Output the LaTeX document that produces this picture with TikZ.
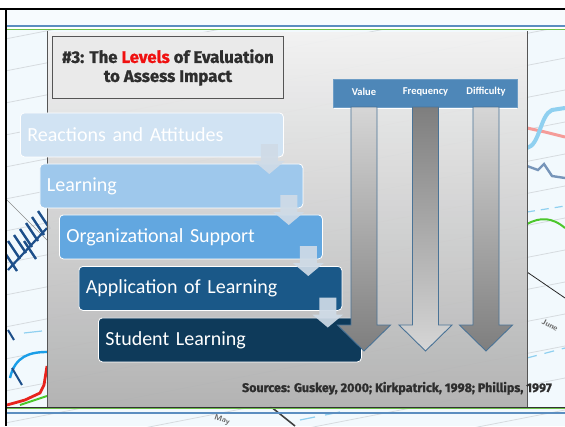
\documentclass[tikz,border=0pt]{standalone}
\usepackage{fontspec}
\usetikzlibrary{calc}
\setmainfont{Carlito}
\newfontfamily\condfont[FakeBold=1.2]{Fira Sans}
\definecolor{bgblue}{HTML}{F2F9FD}
\definecolor{gridc}{HTML}{D6DBDF}
\definecolor{panelTop}{HTML}{F2F2F2}
\definecolor{panelBot}{HTML}{B0B0B0}
\definecolor{panelEdge}{HTML}{555555}
\definecolor{titleFill}{HTML}{EAEAEA}
\definecolor{titleText}{HTML}{2E2E2E}
\definecolor{headFill}{HTML}{4E87B8}
\definecolor{headEdge}{HTML}{6D9DC6}
\definecolor{arrowEdge}{HTML}{4A7396}
\definecolor{gLight}{HTML}{D6D6D6}
\definecolor{gDark}{HTML}{7E7E7E}
\definecolor{lvA}{HTML}{D1E3F3}
\definecolor{lvB}{HTML}{9EC8EC}
\definecolor{lvC}{HTML}{62A7E0}
\definecolor{lvD}{HTML}{1A5888}
\definecolor{lvE}{HTML}{0E3A5A}
\definecolor{smallArr}{HTML}{CFDBE7}
\definecolor{lineBlue}{HTML}{5B8EC0}
\definecolor{lineGreen}{HTML}{6CC04A}
\definecolor{chartDark}{HTML}{1D4F8A}
\definecolor{chartBlue}{HTML}{1A9EE8}
\definecolor{chartLight}{HTML}{8FD0F0}
\definecolor{chartRed}{HTML}{E8231D}
\definecolor{chartGreen}{HTML}{4CC72C}
\definecolor{levelRed}{HTML}{F01010}
\newcommand\bigarrow[3]{%
  \shadedraw[top color=#2, bottom color=#3, draw=arrowEdge, line width=0.9pt]
    ({#1-13},107) -- ({#1+13},107) -- ({#1+13},325) -- ({#1+26.5},325) --
    (#1,351) -- ({#1-26.5},325) -- ({#1-13},325) -- cycle;}
\tikzset{
  gridline/.style={draw=gridc, line width=0.8pt},
  levelbox/.style={draw=white, line width=0.8pt, rounded corners=4pt, text=white,
    font=\fontsize{20}{24}\selectfont, text width=249pt, align=left,
    inner xsep=7pt, inner ysep=0pt, minimum height=44pt, anchor=north west},
  titlebox/.style={draw=panelEdge, fill=titleFill, line width=0.9pt,
    text=titleText, align=center, inner sep=0pt, anchor=north west,
    minimum width=231pt, minimum height=62pt,
    font=\condfont\bfseries\fontsize{16.8}{19}\selectfont},
  headbar/.style={draw=headEdge, fill=headFill, line width=0.8pt, inner sep=0pt,
    anchor=north west, minimum width=184pt, minimum height=28pt},
  headlab/.style={text=white, font=\bfseries\fontsize{10.5}{12}\selectfont, inner sep=0pt},
  srctext/.style={text=titleText, inner sep=0pt,
    font=\condfont\bfseries\fontsize{12.5}{15}\selectfont},
  bgtext/.style={text=gray!80!black, inner sep=0pt, font=\sffamily\bfseries\fontsize{8}{9}\selectfont},
  smallarrow/.pic={\fill[smallArr, fill opacity=0.92]
    (-8.5,0) -- (8.5,0) -- (8.5,17) -- (15.5,17) -- (0,30) -- (-15.5,17) -- (-8.5,17) -- cycle;}
}
\begin{document}
\begin{tikzpicture}[x=1pt,y=-1pt]
\useasboundingbox (0,0) rectangle (565,426);
\fill[white] (0,0) rectangle (565,426);
\fill[bgblue!60!white] (7,10) rectangle (565,26);
\fill[bgblue] (7,30) rectangle (565,426);
% background chart
\begin{scope}
  \clip (7,30) rectangle (565,426);
  \foreach \k in {0,...,16} \draw[gridline] (0,{40+\k*32}) -- (565,{40+\k*32-110});
  \draw[black!45, line width=0.7pt] (7,200) -- (47,240);
  % left strip
  \foreach \p in {(14,250),(20,244),(26,238),(32,232),(38,226),(44,220),(11,262),(30,250)}
    \draw[chartDark, line width=2.4pt] \p ++(-6,-9) -- ++(12,18);
  \draw[chartDark, line width=2.2pt] (8,270) -- (47,228);
  \draw[chartDark, line width=2pt] (8,330) -- (14,340);
  \draw[chartLight, line width=1.2pt] (24,333) -- (42,331);
  \draw[chartBlue, line width=2.4pt] (10,378) .. controls (15,356) and (30,352) .. (47,352);
  \draw[chartDark, line width=2pt] (12,368) -- (22,385);
  \draw[chartGreen, line width=2pt] (20,405) -- (47,396);
  \draw[chartRed, line width=2.8pt] (7,405) -- (25,400) -- (40,393) -- (44,385) -- (47,366);
  % right strip
  \draw[chartRed!45!white, line width=3pt] (527,128) -- (545,132) -- (565,137);
  \draw[chartLight, line width=4pt] (527,148) .. controls (540,145) and (540,115) .. (552,110) -- (565,108);
  \draw[chartDark!60!white, line width=2.4pt] (527,166) -- (538,170) -- (544,164) -- (552,176) -- (565,178);
  \draw[chartLight, line width=1.2pt, dash pattern=on 8pt off 6pt] (527,212) -- (565,206);
  \draw[chartGreen, line width=2pt] (527,224) .. controls (540,217) and (552,217) .. (565,228);
  \draw[black!85, line width=0.8pt] (527,272) -- (565,298);
  \draw[chartLight, line width=1.2pt, dash pattern=on 10pt off 8pt] (527,358) -- (565,348);
  \node[bgtext, rotate=-28] (june) at (550,325) {June};
  % bottom strip
  \draw[black!75, line width=1.6pt] (270,406) -- (295,426);
  \draw[chartLight, line width=1.2pt] (300,420) -- (315,417) (325,415) -- (340,412);
  \node[bgtext, rotate=-18] (may) at (222,420) {May};
\end{scope}
% frame lines
\draw[lineBlue, line width=1.2pt] (7,26) -- (565,26);
\draw[lineGreen, line width=1pt] (7,29.5) -- (565,29.5);
% panel
\shade[top color=panelTop, bottom color=panelBot, fill opacity=0.95] (47,32) rectangle (527,407);
\draw[panelEdge, line width=0.7pt] (47,31) -- (47,407) (527,31) -- (527,407);
\draw[black!80, line width=0.8pt] (7,407) -- (565,407);
\draw[lineGreen, line width=1pt] (7,408.6) -- (565,408.6);
\draw[lineBlue, line width=1.2pt] (7,413) -- (565,413);
% black border
\draw[black, line width=2.6pt] (0,9) -- (565,9);
\draw[black, line width=2.4pt] (6,9) -- (6,426);
% title
\node[titlebox] (title) at (52,36) {\#3: The \textcolor{levelRed}{Levels} of Evaluation\\to Assess Impact};
% header bar
\draw[white, line width=1pt] (334,108) -- (517,108);
\node[headbar] (hb) at (333,79) {};
\node[headlab] (hv) at (364,92) {Value};
\node[headlab] (hf) at (425.5,92) {Frequency};
\node[headlab] (hd) at (486,92) {Difficulty};
% level boxes
\node[levelbox, fill=lvA] (l1) at (20,112.5) {Reactions and Attitudes};
\node[levelbox, fill=lvB] (l2) at (39.5,163.5) {Learning};
\node[levelbox, fill=lvC] (l3) at (59,214.5) {Organizational Support};
\node[levelbox, fill=lvD] (l4) at (78.5,266) {Application of Learning};
\node[levelbox, fill=lvE] (l5) at (98,317.5) {Student Learning};
% big arrows
\bigarrow{364}{gLight}{gDark}
\bigarrow{425.5}{gDark}{gLight}
\bigarrow{486}{gLight}{gDark}
% small arrows
\foreach \b in {l1,l2,l3,l4}
  \pic at ($(\b.north east)+(-14.5,31.5)$) {smallarrow};
% sources
\node[srctext, anchor=base east] (src) at (552,392) {Sources: Guskey, 2000; Kirkpatrick, 1998; Phillips, 1997};
\end{tikzpicture}
\end{document}
